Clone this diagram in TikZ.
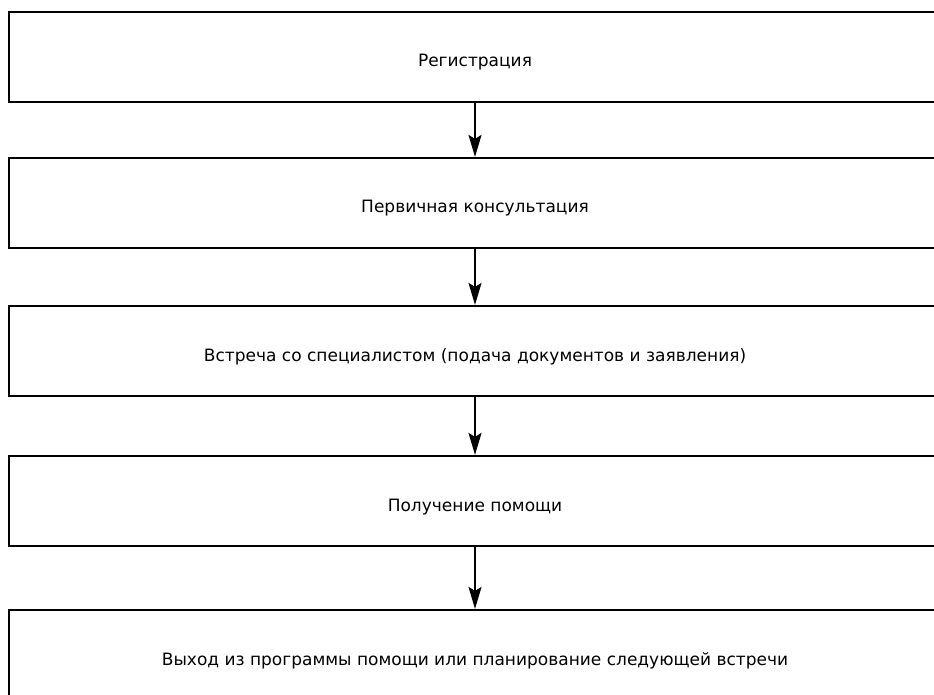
\documentclass[tikz,border=0pt]{standalone}
\usepackage{fontspec}
\setmainfont{DejaVu Sans}
\usetikzlibrary{arrows.meta}

\begin{document}
\begin{tikzpicture}[x=1pt, y=-1pt,
  stage/.style={draw, black, line width=2.2pt, minimum width=932pt,
    minimum height=90pt, inner sep=0pt, text height=20pt, text depth=0pt,
    font=\fontsize{17pt}{20pt}\selectfont},
  flow/.style={line width=2pt, -{Stealth[length=22pt, width=13pt, inset=4pt]}}]
  \useasboundingbox (0,0) rectangle (934,695);
  \node [stage] (reg)  at (475, 57)  {Регистрация};
  \node [stage] (cons) at (475, 203) {Первичная консультация};
  \node [stage] (spec) at (475, 351) {Встреча со специалистом (подача документов и заявления)};
  \node [stage] (help) at (475, 501) {Получение помощи};
  \node [stage] (exit) at (475, 655) {Выход из программы помощи или планирование следующей встречи};
  \draw [flow] (reg) -- (cons);
  \draw [flow] (cons) -- (spec);
  \draw [flow] (spec) -- (help);
  \draw [flow] (help) -- (exit);
\end{tikzpicture}
\end{document}
